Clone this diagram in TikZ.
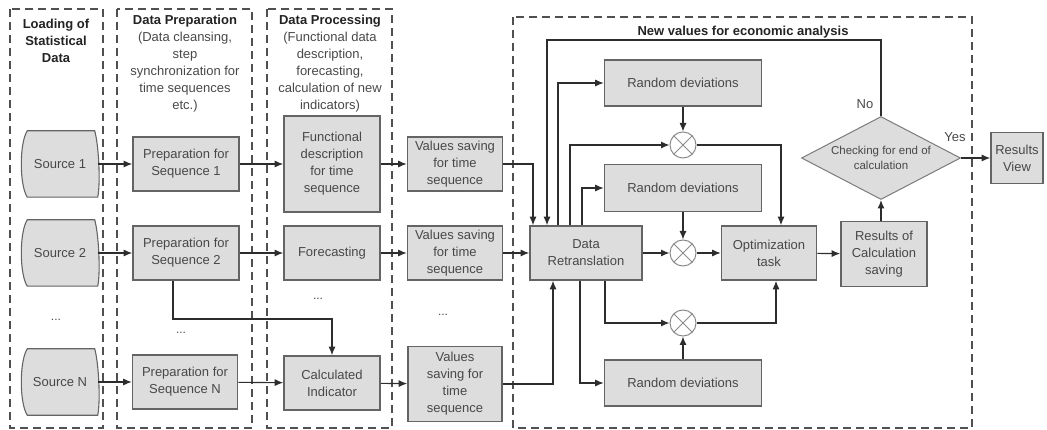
\documentclass[tikz,border=0pt]{standalone}
\usepackage{fontspec}
\setmainfont{Liberation Sans}
\usetikzlibrary{arrows.meta,shapes.geometric,backgrounds}
\definecolor{boxfill}{RGB}{221,221,221}
\definecolor{boxdraw}{RGB}{100,100,100}
\definecolor{txt}{RGB}{72,72,72}
\definecolor{hdr}{RGB}{35,35,35}
\definecolor{linec}{RGB}{45,45,45}
\definecolor{dashc}{RGB}{80,80,80}
\tikzset{
  box/.style={draw=boxdraw, fill=boxfill, line width=1.6pt, text=txt, align=center,
    inner sep=1pt, font=\fontsize{13}{17}\selectfont},
  srcnode/.style={minimum width=75pt, minimum height=66pt, text=txt, inner sep=0pt,
    font=\fontsize{13}{17}\selectfont},
  srcshape/.style={draw=boxdraw, fill=boxfill, line width=1.1pt},
  otimesnode/.style={circle, draw=boxdraw!75, fill=white, line width=1pt,
    minimum size=26pt, inner sep=0pt,
    path picture={\draw[boxdraw!75, line width=0.8pt]
      (path picture bounding box.north west) -- (path picture bounding box.south east)
      (path picture bounding box.north east) -- (path picture bounding box.south west);}},
  chknode/.style={diamond, draw=boxdraw!85, fill=boxfill, line width=1pt, text=txt,
    align=center, inner sep=0pt, aspect=1.9, minimum width=159pt, minimum height=83pt,
    font=\fontsize{11.5}{15}\selectfont},
  arr/.style={draw=linec, line width=1.1pt, -{Latex[length=8.5pt,width=7pt]}},
  dashbox/.style={draw=dashc, line width=1.3pt, dash pattern=on 8pt off 5pt},
  header/.style={align=center, anchor=north, text=txt, inner sep=0pt,
    font=\fontsize{13}{17}\selectfont},
  dotsnode/.style={text=txt, font=\fontsize{12}{14}\selectfont, inner sep=0pt},
  lbl/.style={text=txt, font=\fontsize{13}{15}\selectfont, inner sep=0pt}
}
\begin{document}
\begin{tikzpicture}[x=1pt,y=-1pt]
\useasboundingbox (0,0) rectangle (1047,430);

% dashed group frames
\draw[dashbox] (10,9) rectangle (103,428);
\draw[dashbox] (117,9) rectangle (252,428);
\draw[dashbox] (267,9) rectangle (392,428);
\draw[dashbox] (513,17) rectangle (972,428);

% headers
\node[header] (h1) at (56,19) {\textbf{\color{hdr}Loading of}\\\textbf{\color{hdr}Statistical}\\\textbf{\color{hdr}Data}};
\node[header] (h2) at (185,15) {\textbf{\color{hdr}Data Preparation}\\(Data cleansing,\\step\\synchronization for\\time sequences\\etc.)};
\node[header] (h3) at (330,15) {\textbf{\color{hdr}Data Processing}\\(Functional data\\description,\\forecasting,\\calculation of new\\indicators)};
\node[header, anchor=base] (h4) at (743,36) {\textbf{\color{hdr}New values for economic analysis}};

% sources
\node[srcnode] (s1) at (60,164) {Source 1};
\node[srcnode] (s2) at (60,253) {Source 2};
\node[srcnode] (sN) at (60,382) {Source N};
\begin{scope}[on background layer]
\foreach \n in {s1,s2,sN}{
  \draw[srcshape] ([xshift=5pt]\n.north west) -- ([xshift=-3pt]\n.north east)
    .. controls ([xshift=1pt,yshift=-14pt]\n.north east) and ([xshift=3pt,yshift=14pt]\n.south east) .. (\n.south east)
    -- ([xshift=5pt]\n.south west)
    .. controls ([xshift=-3pt,yshift=12pt]\n.south west) and ([xshift=-3pt,yshift=-12pt]\n.north west) .. ([xshift=5pt]\n.north west) -- cycle;
}
\end{scope}
\node[dotsnode] (d1) at (56,320) {...};

% preparation
\node[box, minimum width=106pt, minimum height=54pt] (p1) at (186,164) {Preparation for\\Sequence 1};
\node[box, minimum width=106pt, minimum height=54pt] (p2) at (186,253) {Preparation for\\Sequence 2};
\node[box, minimum width=105pt, minimum height=54pt] (pN) at (185,382) {Preparation for\\Sequence N};
\node[dotsnode] (d2) at (181,333) {...};

% processing
\node[box, minimum width=96pt, minimum height=96pt] (f1) at (332,164) {Functional\\description\\for time\\sequence};
\node[box, minimum width=96pt, minimum height=54pt] (f2) at (332,253) {Forecasting};
\node[box, minimum width=96pt, minimum height=54pt] (fN) at (332,383) {Calculated\\Indicator};
\node[dotsnode] (d3) at (318,299) {...};

% values saving
\node[box, minimum width=95pt, minimum height=54pt] (v1) at (455,164) {Values saving\\for time\\sequence};
\node[box, minimum width=95pt, minimum height=54pt] (v2) at (455,253) {Values saving\\for time\\sequence};
\node[box, minimum width=94pt, minimum height=75pt] (vN) at (455,384) {Values\\saving for\\time\\sequence};
\node[dotsnode] (d4) at (443,315) {...};

% analysis block
\node[box, minimum width=112pt, minimum height=54pt] (dr) at (586,253) {Data\\Retranslation};
\node[box, minimum width=157pt, minimum height=46pt] (rd1) at (683,83) {Random deviations};
\node[box, minimum width=157pt, minimum height=47pt] (rd2) at (683,188) {Random deviations};
\node[box, minimum width=157pt, minimum height=46pt] (rd3) at (683,383) {Random deviations};
\node[otimesnode] (o1) at (683,145) {};
\node[otimesnode] (o2) at (683,253) {};
\node[otimesnode] (o3) at (683,323) {};
\node[box, minimum width=95pt, minimum height=54pt] (opt) at (769,253) {Optimization\\task};
\node[box, minimum width=86pt, minimum height=65pt] (res) at (884,254) {Results of\\Calculation\\saving};
\node[chknode] (chk) at (881,158) {Checking for end of\\calculation};
\node[box, minimum width=52pt, minimum height=51pt] (rv) at (1017,158) {Results\\View};

\node[lbl] (no) at (865,104) {No};
\node[lbl] (yes) at (955,137) {Yes};

% connectors: sources to preparation
\draw[arr] (s1) -- (p1);
\draw[arr] (s2) -- (p2);
\draw[arr] (sN) -- (pN);
% preparation to processing
\draw[arr] (p1) -- (f1);
\draw[arr] (p2) -- (f2);
\draw[arr] (pN) -- (fN);
\coordinate (j1) at (332,319);
\draw[arr] ([xshift=-13pt]p2.south) |- (j1) -- (fN.north);
% processing to saving
\draw[arr] (f1) -- (v1);
\draw[arr] (f2) -- (v2);
\draw[arr] (fN) -- (vN);
% saving to retranslation
\draw[arr] (v1.east) -| ([xshift=-53pt]dr.north);
\draw[arr] (v2) -- (dr);
\draw[arr] (vN.east) -| ([xshift=-33pt]dr.south);
% feedback loop
\coordinate (top) at (547,40);
\draw[arr] (chk.north) |- (top) -- ([xshift=-39pt]dr.north);
% retranslation outputs
\draw[arr] ([xshift=-28pt]dr.north) |- (rd1.west);
\draw[arr] ([xshift=-16pt]dr.north) |- (o1.west);
\draw[arr] ([xshift=-4pt]dr.north) |- (rd2.west);
\draw[arr] ([xshift=-6pt]dr.south) |- (rd3.west);
\draw[arr] ([xshift=19pt]dr.south) |- (o3.west);
\draw[arr] (dr) -- (o2);
% deviations to multipliers
\draw[arr] (rd1) -- (o1);
\draw[arr] (rd2) -- (o2);
\draw[arr] (rd3) -- (o3);
% multipliers to optimization
\draw[arr] (o2) -- (opt);
\draw[arr] (o1.east) -| ([xshift=12pt]opt.north);
\draw[arr] (o3.east) -| ([xshift=7pt]opt.south);
% results
\draw[arr] (opt) -- (res);
\draw[arr] (res.north -| chk.south) -- (chk.south);
\draw[arr] (chk.east) -- (rv.west);
\end{tikzpicture}
\end{document}
